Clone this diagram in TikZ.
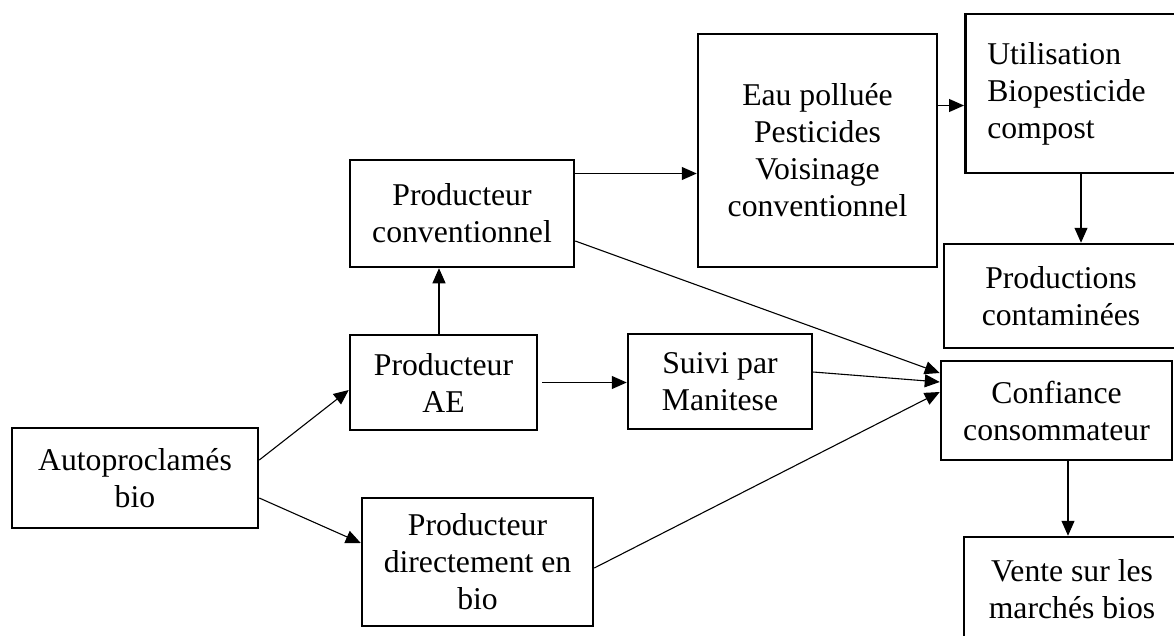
\documentclass[tikz,border=0pt]{standalone}
\usepackage{fontspec}
\setmainfont{Liberation Serif}
\usetikzlibrary{arrows.meta}
\begin{document}
\begin{tikzpicture}[x=1pt,y=-1pt,
  box/.style={draw=black,line width=2.5pt,rectangle,inner sep=0pt,align=center,
    font=\fontsize{31.7}{37}\selectfont},
  conn/.style={draw=black,line width=1.1pt,-{Triangle[length=15pt,width=13pt]}}]
\useasboundingbox (0,0) rectangle (1174,635);
\clip (0,0) rectangle (1174,635);
\fill[white] (0,0) rectangle (1174,635);

\node[box,minimum width=246pt,minimum height=100pt] (auto) at (135,478) {Autoproclamés\\bio};
\node[box,minimum width=187pt,minimum height=95pt] (ae) at (443.5,382.5) {Producteur\\AE};
\node[box,minimum width=224pt,minimum height=107pt] (conv) at (462,213.5) {Producteur\\conventionnel};
\node[box,minimum width=184pt,minimum height=95pt] (suivi) at (720,381.5) {Suivi par\\Manitese};
\node[box,minimum width=231pt,minimum height=128pt] (direct) at (477.5,562) {Producteur\\directement en\\bio};
\node[box,minimum width=239pt,minimum height=233pt] (eau) at (817.5,150.5) {Eau polluée\\Pesticides\\Voisinage\\conventionnel};
\node[box,anchor=west,align=left,inner xsep=22pt,text width=190pt,minimum height=159pt] (util) at (964,93.5) {Utilisation\\Biopesticide\\compost};
\node[box,minimum width=234pt,minimum height=104pt] (prod) at (1061,296) {Productions\\contaminées};
\node[box,minimum width=231pt,minimum height=99pt] (conf) at (1056.5,410.5) {Confiance\\consommateur};
\node[box,minimum width=216pt,minimum height=104pt] (vente) at (1072,589) {Vente sur les\\marchés bios};

\draw[conn] ([yshift=18pt]auto.east) -- ([yshift=-7.5pt]ae.west);
\draw[conn] ([yshift=-20pt]auto.east) -- ([yshift=19pt]direct.west);
\draw[conn] ([xshift=-4.5pt]ae.north) -- ([xshift=-4.5pt]ae.north |- conv.south);
\draw[conn] ([xshift=4pt]ae.east) -- (ae.east -| suivi.west);
\draw[conn] ([yshift=40pt]conv.east) -- ([yshift=40pt]conv.east -| eau.west);
\draw[conn] ([yshift=45pt]eau.east) -- ([yshift=45pt]eau.east -| util.west);
\coordinate (ux) at (1081,0);
\draw[conn] (util.south -| ux) -- (prod.north -| ux);
\draw[conn] ([yshift=-27.5pt]conv.east) -- ([yshift=37.5pt]conf.west);
\draw[conn] ([yshift=9.5pt]suivi.east) -- ([yshift=28.5pt]conf.west);
\draw[conn] ([yshift=-6pt]direct.east) -- ([yshift=18.5pt]conf.west);
\draw[conn] ([xshift=11.5pt]conf.south) -- ([xshift=11.5pt]conf.south |- vente.north);
\end{tikzpicture}
\end{document}
